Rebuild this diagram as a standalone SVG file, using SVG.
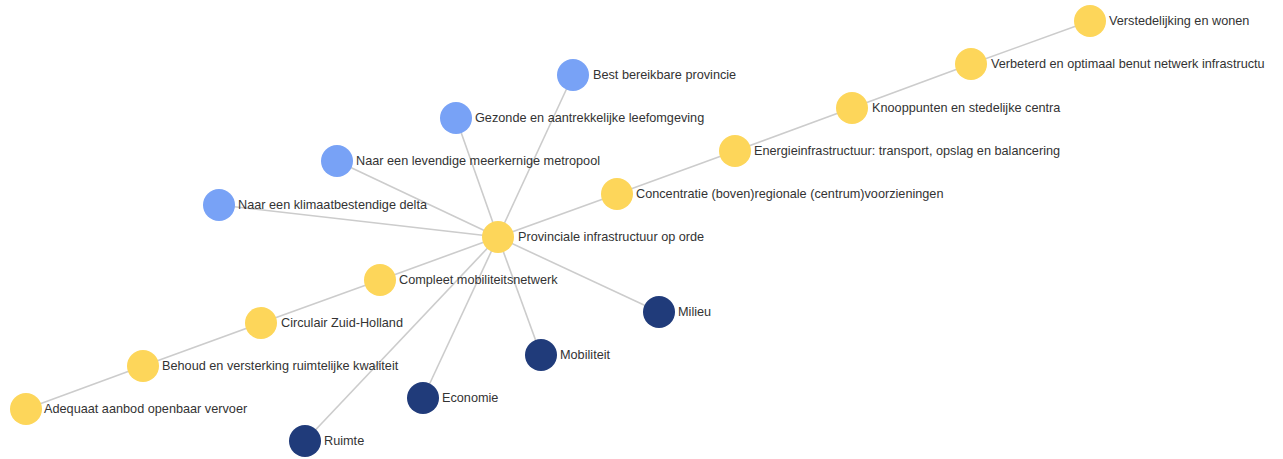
<svg xmlns="http://www.w3.org/2000/svg" width="1283" height="459" viewBox="0 0 1283 459">
<style>
.e{stroke:#cccccc;stroke-width:1.6;fill:none}
.y{fill:#fdd65a}
.b{fill:#78a2f6}
.d{fill:#203b7a}
text{font-family:"Liberation Sans",Arial,sans-serif;font-size:12.7px;fill:#333333}
</style>
<rect width="1283" height="459" fill="#ffffff"/>
<g id="connectors">
<line class="e" x1="498" y1="237" x2="617" y2="194"/>
<line class="e" x1="617" y1="194" x2="735" y2="151"/>
<line class="e" x1="735" y1="151" x2="852" y2="108"/>
<line class="e" x1="852" y1="108" x2="971" y2="64"/>
<line class="e" x1="971" y1="64" x2="1090" y2="21"/>
<line class="e" x1="498" y1="237" x2="380" y2="280"/>
<line class="e" x1="380" y1="280" x2="261" y2="323"/>
<line class="e" x1="261" y1="323" x2="143" y2="366"/>
<line class="e" x1="143" y1="366" x2="26" y2="409"/>
<line class="e" x1="498" y1="237" x2="573" y2="75"/>
<line class="e" x1="498" y1="237" x2="456" y2="118"/>
<line class="e" x1="498" y1="237" x2="337" y2="161"/>
<line class="e" x1="498" y1="237" x2="219" y2="205"/>
<line class="e" x1="498" y1="237" x2="659" y2="312"/>
<line class="e" x1="498" y1="237" x2="541" y2="355"/>
<line class="e" x1="498" y1="237" x2="423" y2="398"/>
<line class="e" x1="498" y1="237" x2="305" y2="441"/>
</g>
<g id="n-provinciale"><circle class="y" cx="498" cy="237" r="16"/><text x="518" y="241">Provinciale infrastructuur op orde</text></g>
<g id="n-concentratie"><circle class="y" cx="617" cy="194" r="16"/><text x="636" y="198">Concentratie (boven)regionale (centrum)voorzieningen</text></g>
<g id="n-energie"><circle class="y" cx="735" cy="151" r="16"/><text x="754" y="155">Energieinfrastructuur: transport, opslag en balancering</text></g>
<g id="n-knooppunten"><circle class="y" cx="852" cy="108" r="16"/><text x="872" y="112">Knooppunten en stedelijke centra</text></g>
<g id="n-verbeterd"><circle class="y" cx="971" cy="64" r="16"/><text x="991" y="68">Verbeterd en optimaal benut netwerk infrastructu</text></g>
<g id="n-verstedelijking"><circle class="y" cx="1090" cy="21" r="16"/><text x="1109" y="25">Verstedelijking en wonen</text></g>
<g id="n-compleet"><circle class="y" cx="380" cy="280" r="16"/><text x="399" y="284">Compleet mobiliteitsnetwerk</text></g>
<g id="n-circulair"><circle class="y" cx="261" cy="323" r="16"/><text x="281" y="327">Circulair Zuid-Holland</text></g>
<g id="n-behoud"><circle class="y" cx="143" cy="366" r="16"/><text x="162" y="370">Behoud en versterking ruimtelijke kwaliteit</text></g>
<g id="n-adequaat"><circle class="y" cx="26" cy="409" r="16"/><text x="44" y="413">Adequaat aanbod openbaar vervoer</text></g>
<g id="n-best"><circle class="b" cx="573" cy="75" r="16"/><text x="593" y="79">Best bereikbare provincie</text></g>
<g id="n-gezonde"><circle class="b" cx="456" cy="118" r="16"/><text x="475" y="122">Gezonde en aantrekkelijke leefomgeving</text></g>
<g id="n-levendige"><circle class="b" cx="337" cy="161" r="16"/><text x="356" y="165">Naar een levendige meerkernige metropool</text></g>
<g id="n-klimaat"><circle class="b" cx="219" cy="205" r="16"/><text x="238" y="209">Naar een klimaatbestendige delta</text></g>
<g id="n-milieu"><circle class="d" cx="659" cy="312" r="16"/><text x="678" y="316">Milieu</text></g>
<g id="n-mobiliteit"><circle class="d" cx="541" cy="355" r="16"/><text x="560" y="359">Mobiliteit</text></g>
<g id="n-economie"><circle class="d" cx="423" cy="398" r="16"/><text x="442" y="402">Economie</text></g>
<g id="n-ruimte"><circle class="d" cx="305" cy="441" r="16"/><text x="324" y="445">Ruimte</text></g>
</svg>
